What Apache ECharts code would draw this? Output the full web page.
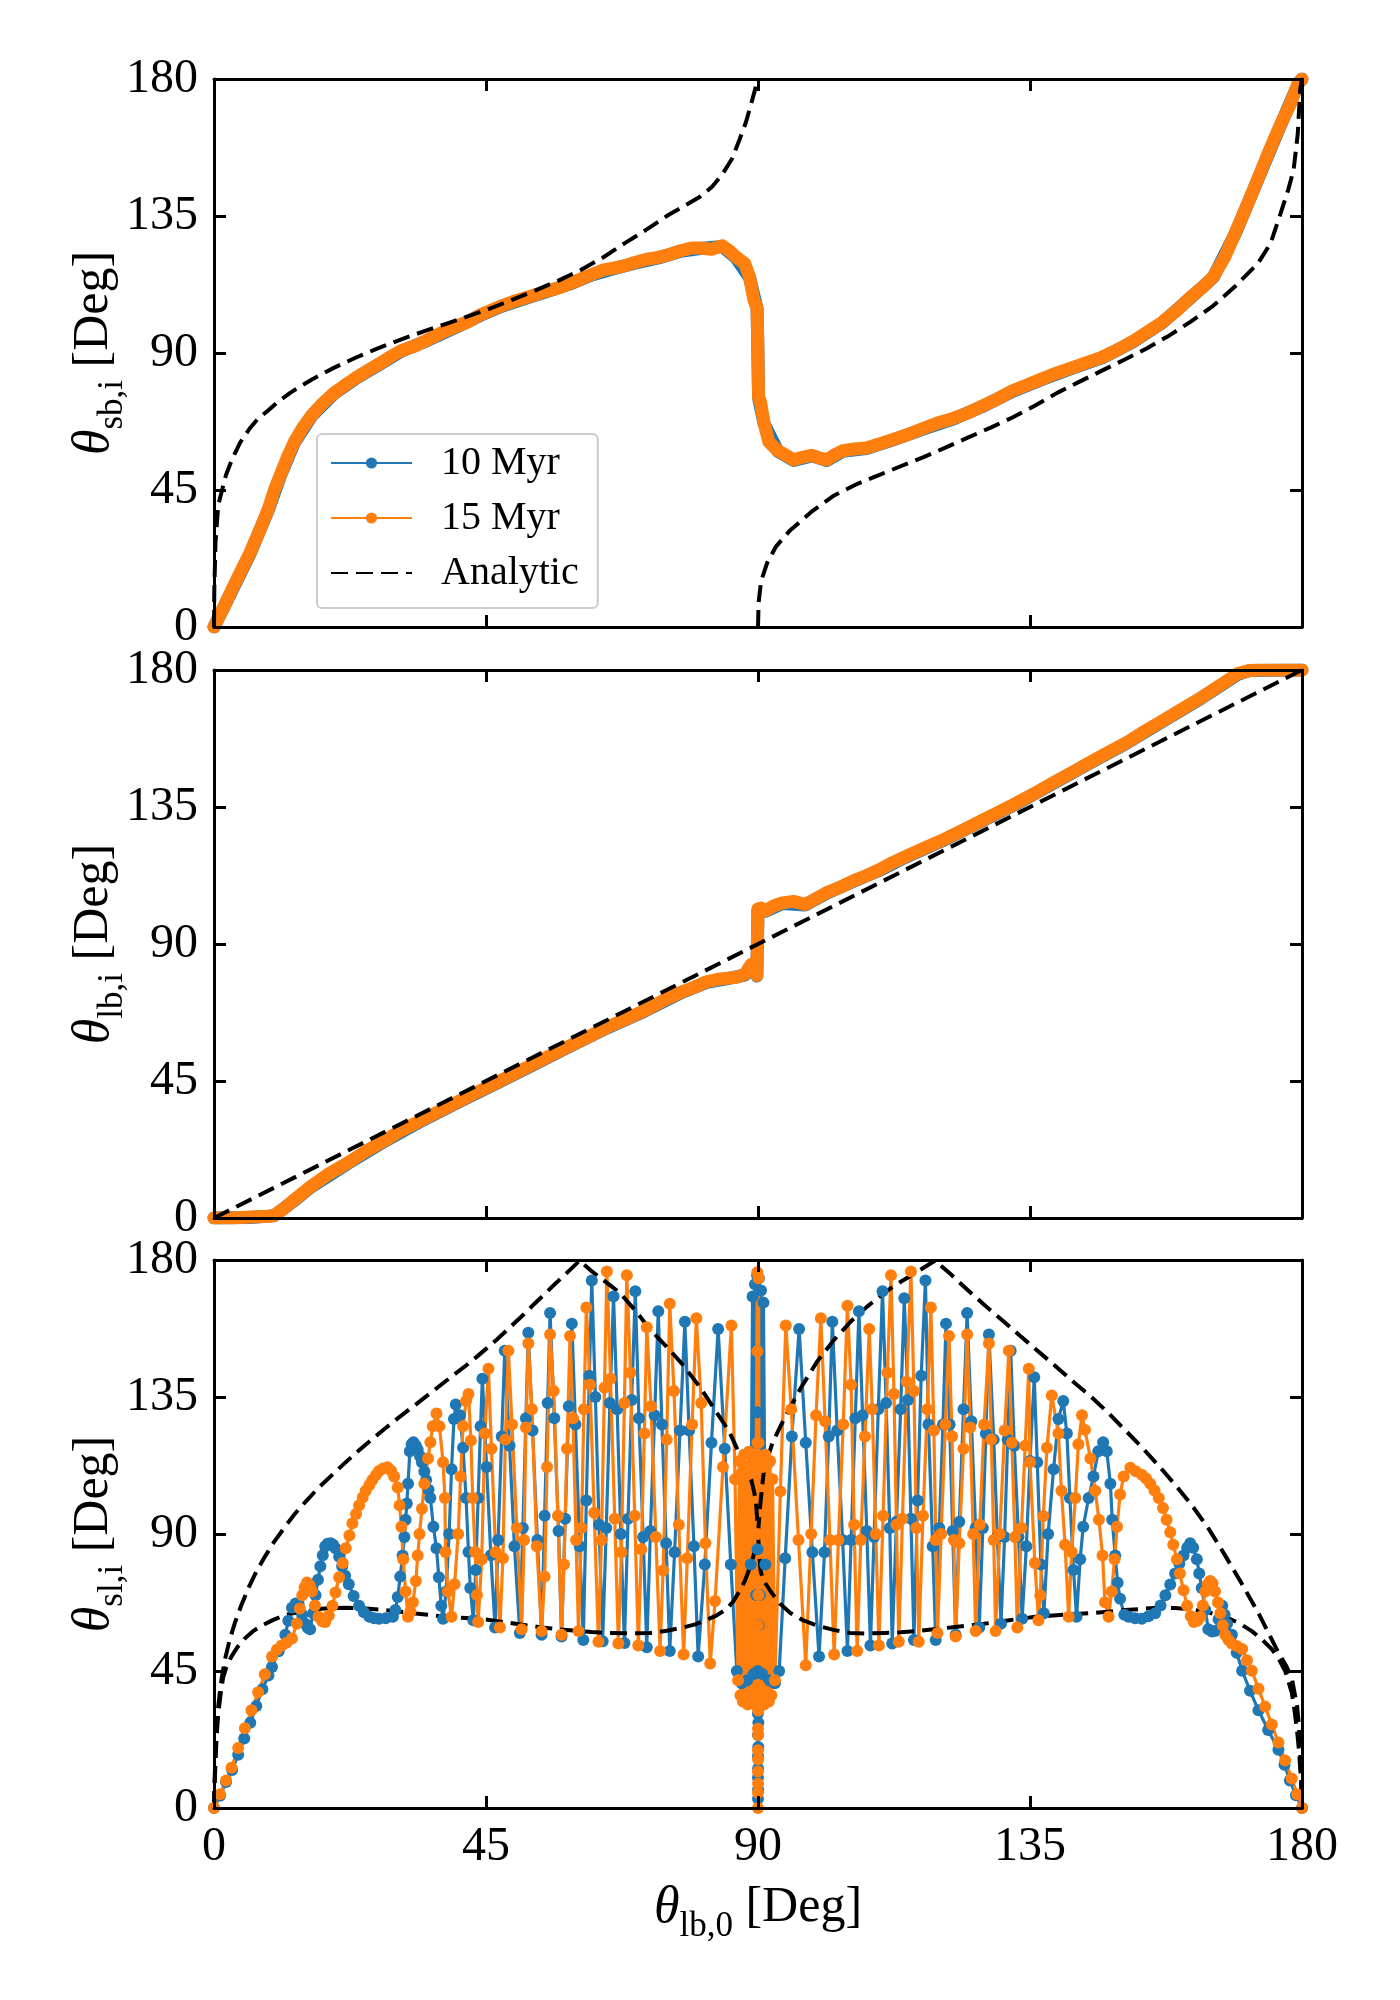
<!DOCTYPE html>
<html>
<head>
<meta charset="utf-8">
<script src="https://cdn.jsdelivr.net/npm/echarts@6.0.0/dist/echarts.min.js"></script>
<style>
  html, body { margin: 0; padding: 0; background: #fff; }
  #chart { width: 1400px; height: 2000px; }
</style>
</head>
<body>
<div id="chart"></div>
<script>
// ---------- data (degrees) ----------
const tickValues = [0, 45, 90, 135, 180]
const yLabelSubs = ['sb,i', 'lb,i', 'sl,i']
const xLabelSub = 'lb,0'
const seriesNames = ['10 Myr', '15 Myr', 'Analytic']

// panel 1: theta_sb,i
const sb15 = [
  [0,0],[1.5,6],[3,12.4],[4.5,18.5],[6,24.5],[7.5,31.5],[9,38.8],[10,45],[11.1,50.5],[12.2,56],
  [13.3,60.8],[14.7,65.5],[16.2,69.6],[18,73.5],[19.9,76.9],[21.8,79.6],[23.6,82],[25.5,84.3],
  [27.3,86.4],[29.2,88.8],[31,90.8],[33.2,92.3],[35.5,94.5],[37.7,96.7],[40,98.6],[42.1,100.3],
  [44,102.5],[45.8,104],[47.7,105.6],[49.5,106.9],[51.3,108],[53.2,109.1],[55,110.3],[56.9,111.3],
  [58.8,112.8],[60.6,114.2],[62.5,115.8],[64.3,117.2],[66.1,117.9],[67.9,118.6],[69.8,119.8],
  [71.6,120.8],[73.5,121.4],[75.3,122.3],[77.2,123.6],[79,124.5],[80.4,124.5],[82.3,124.1],
  [84.1,125.2],[85.3,123.5],[86.3,121.6],[87.8,119.4],[88.6,115],[89.3,107.6],[89.85,104.7],
  [89.95,95],[90,88.6],[90.05,80],[90.1,75.4],[90.4,74],[91,67],[91.8,60.8],[93.3,57.9],[95.9,54.9],
  [97.5,55.8],[98.9,56.4],[100.2,55.5],[101.4,54.9],[102.7,56.6],[104,57.9],[106,58.5],[107.9,58.8],
  [109.9,60],[112,61.4],[114.5,63],[117.3,65.2],[120,67.2],[122.4,68.6],[124.7,70.3],[127,72.5],
  [129.5,74.8],[132.1,77.6],[134.5,79.5],[137,81.5],[139.5,83.5],[142,85.2],[144.5,86.9],[146.9,88.6],
  [149.5,91],[152,93.8],[154.3,96.7],[156.8,100],[159.3,104],[161.6,108.4],[163.5,111.5],[165.3,115],
  [167.2,121.5],[169,129.6],[170.8,138],[172.7,147.2],[174.5,156],[176.4,164.8],[178,171.5],
  [179.4,178.7],[180,180]
]
const sb10 = [
  [0,0],[3,12],[6,24.2],[9,38.5],[11.1,50.2],[13.3,60.5],[16.2,69.4],[19.9,76.7],[23.6,81.8],
  [27.3,86.2],[31,90.6],[35.5,94.3],[40,98.4],[44,102.3],[47.7,105.4],[51.3,107.8],[55,110.1],
  [58.8,112.6],[62.5,115.6],[66.1,117.7],[69.8,119.6],[73.5,121.2],[77.2,123.4],[80.4,124.3],
  [84.1,125],[86.3,121.4],[88.6,114.8],[89.85,104.5],[90,88.4],[90.1,75.2],[91,66.8],[93.3,57.7],
  [95.9,54.7],[98.9,56.2],[101.4,54.7],[104,57.7],[107.9,58.6],[112,61.2],[117.3,65],[122.4,68.4],
  [127,72.3],[132.1,77.4],[137,81.3],[142,85],[146.9,88.4],[152,93.6],[156.8,99.8],[161.6,108.2],
  [165.3,114.8],[169,129.4],[172.7,147],[176.4,164.6],[179.4,178.5],[180,180]
]
const sbAnalyticLeft = [
  [0,0],[0.05,12],[0.25,28],[0.7,40],[1.1,43.2],[2,50],[2.95,54.9],[4.3,60.5],[5.9,65.2],[7.3,68.5],
  [8.9,71],[10.7,74.2],[12.6,76.9],[14.4,79.2],[16.2,81.3],[19.9,85.2],[23.6,88.6],[27.3,91.7],
  [31,94.5],[34.7,97.1],[38.4,99.6],[42.1,102.1],[45.8,104.7],[49.5,107.6],[53.2,110.6],
  [56.9,113.7],[60.6,117.2],[64.3,121.3],[67.9,126],[71.6,130.6],[75.3,135.5],[78,138.5],
  [80.4,141.3],[82.4,144.6],[84.1,148.7],[85.7,153.8],[87,160.4],[88,165.8],[88.9,172],
  [89.5,176.5],[89.85,179.4],[90,180]
]
const sbAnalyticRight = [
  [90,0],[90.1,8],[90.5,15],[91.5,21],[93,26.5],[95.2,31.5],[98.8,37.8],[102.6,43.2],[106.2,46.8],
  [109.9,49.8],[113.6,52.8],[117.3,55.7],[121,58.9],[124.7,62.2],[128.4,65.4],[132.1,68.8],
  [135.8,72.7],[139.5,76.9],[143.2,80.6],[146.9,84.2],[150.6,87.8],[154.3,91.5],[158,95.7],
  [161.6,100.3],[165.3,105.5],[169,112],[172.7,119.4],[174.8,126],[176.4,135.5],[177.7,143.5],
  [178.6,150],[179.3,162],[179.7,176.5],[180,180]
]

// panel 2: theta_lb,i
const lb15 = [
  [0,0],[3,0],[6,0.3],[9,0.6],[9.9,0.8],[11.5,3],[13,5.5],[16,10.3],[19,14.5],[22.2,18.2],[25,21.8],
  [28.3,25.5],[31,28.8],[34.4,32.2],[37.5,35.3],[40.5,38.3],[43.5,41.3],[46.7,44.4],[49.7,47.4],
  [52.8,50.5],[55.8,53.5],[58.9,56.6],[62,59.6],[65,62.6],[68,65.2],[71.2,68.1],[74.2,71.3],
  [77.3,74.2],[79.5,75.8],[81.5,77.6],[83.4,78.4],[85,78.8],[86.5,79.1],[87.8,80],[88.9,83.3],
  [89.5,82],[89.8,79.7],[89.9,90],[90,101.5],[90.5,101.8],[91.3,101],[92.6,102.5],[94,103.5],
  [95.9,104],[97.8,103],[99.5,104.8],[101.5,107],[103.5,108.5],[105.7,110.7],[108,112.5],
  [110,114.3],[112,116.5],[114.3,118.6],[117.3,121.3],[120.4,124],[123.5,127],[126.6,130.1],
  [129.6,133.1],[132.7,136.2],[135.8,139.5],[138.8,142.9],[141.9,146.3],[144.9,149.6],[148,153],
  [151.1,156.3],[154.1,160],[157.2,163.6],[160.3,167.3],[163.3,170.9],[166.3,174.8],[169.4,178.8],
  [171.3,179.8],[173,180],[176,180],[180,180]
]
const lb10 = [
  [0,0],[6,0.2],[9.9,0.7],[13,5.3],[16,10.1],[22.2,18],[28.3,25.3],[34.4,32],[40.5,38.1],[46.7,44.2],
  [52.8,50.3],[58.9,56.4],[65,62.4],[71.2,67.9],[77.3,74],[81.5,77.4],[85,78.6],[87.8,79.8],
  [88.9,83.1],[89.8,79.5],[89.9,90],[90,101.3],[91.3,100.8],[94,103.3],[97.8,102.8],[101.5,106.8],
  [105.7,110.5],[110,114.1],[114.3,118.4],[120.4,123.8],[126.6,129.9],[132.7,136],[138.8,142.7],
  [144.9,149.4],[151.1,156.1],[157.2,163.4],[163.3,170.7],[169.4,178.6],[171.3,179.8],[180,180]
]
const lbAnalytic = [[0,0],[180,180]]

// panel 3: theta_sl,i
const sl15 = [
  [0,0],[1,4.5],[2,9],[2.9,13.2],[4,19.7],[5.1,26.2],[6.2,32.1],[7.3,38],[8.4,43.9],[9.6,49.8],
  [10.4,52],[11.2,53.4],[12,54.3],[12.9,55.7],[13.7,60.5],[14.2,65.5],[14.6,69.9],[15,72.5],
  [15.4,74.1],[15.8,73.2],[16.2,71.1],[16.7,66.5],[17.3,62.8],[17.9,61.3],[18.4,61.1],[19,63.2],
  [19.6,66.4],[20.1,70.8],[20.7,75.8],[21.3,80.5],[21.8,85.3],[22.4,89.5],[22.9,93.5],[23.5,96.6],
  [24,99.4],[24.6,102],[25.1,104.2],[25.7,106.1],[26.2,107.7],[26.8,109.4],[27.3,110.7],[28,111.5],
  [28.7,111.9],[29.3,110.8],[29.8,108.9],[30.4,105.3],[30.7,99.4],[31,92.4],[31.3,81.7],[31.7,71.1],
  [32.1,62.8],[32.5,64.5],[32.9,67.6],[33.4,74.6],[33.7,82.9],[34,90],[34.4,98.3],[34.8,106.5],
  [35.4,114.8],[35.8,120.1],[36.2,125.4],[36.8,129.6],[37.3,125.4],[37.9,113.6],[38.2,101.8],
  [38.3,84.1],[38.7,71.1],[39.3,62.8],[39.8,73.5],[40.4,90],[40.8,108.9],[41.2,125.4],[41.7,133.7],
  [42.1,136],[42.5,120.7],[42.8,101.8],[43.2,84.1],[43.5,70],[43.7,61.1],[44.3,81.7],[44.8,123],
  [45.4,144.3],[45.9,118],[46.6,84],[47.3,59.3],[47.8,82],[48.2,121],[48.7,150.2],[49.3,126],
  [50.1,92],[50.9,58.7],[51.3,88],[51.6,125],[52,152.6],[52.6,131],[53.4,86],[54.2,58.1],[54.7,76],
  [55.1,112],[55.6,155.5],[56.2,137],[56.9,96],[57.5,56.9],[57.9,80],[58.4,118],[58.9,155],
  [59.4,128],[59.9,88],[60.3,58.1],[60.8,92],[61.2,131],[61.6,164.4],[62.2,139],[62.9,97],
  [63.6,54.6],[64.1,88],[64.6,138],[65,176.2],[65.6,141],[66.3,95],[66.9,54],[67.4,84],[67.9,133],
  [68.3,175],[68.9,143],[69.6,96],[70.2,53.4],[70.7,85],[71.2,123],[71.6,157.9],[72.3,132],
  [73.1,89],[73.8,51.6],[74.3,78],[74.9,121],[75.4,165.6],[76.1,137],[76.9,93],[77.7,50.4],
  [78.3,82],[79.1,126],[79.8,160.9],[80.6,133],[81.3,87],[82.1,47.5],[82.9,68],[84.2,112],
  [85.6,158.5],[86.2,108],[86.7,42],
  [86.9,114],[87.1,37],[87.3,110],[87.5,35],[87.7,116],[87.9,36],[88.1,112],[88.3,34],[88.5,117],
  [88.7,36],[88.9,113],[89.1,35],[89.3,116],[89.5,38],[89.7,114],
  [89.88,176],[89.9,150],[89.92,120],[89.94,90],[89.96,60],[89.98,40],[90,33],[90,26],[90,19],
  [90,12],[90,5],[90,0],[90.01,8],[90.02,16],[90.03,24],[90.04,32],[90.06,70],[90.08,120],[90.1,174],
  [90.25,40],[90.4,115],[90.6,35],[90.8,112],[91,34],[91.2,116],[91.4,36],[91.6,113],[91.8,35],
  [92,114],[92.2,37],[92.4,108],[92.8,42],
  [93.7,104],[94.6,158.5],[95.5,131],[96.7,88],[97.9,46.9],[98.8,90],[99.6,129],[100.4,160.9],
  [101.1,127],[101.9,88],[102.6,50.4],[103.3,88],[104.1,126],[104.8,165],[105.4,139],[105.9,93],
  [106.4,51.6],[107,88],[107.7,122],[108.4,157.3],[108.9,131],[109.5,90],[110,53.4],[110.7,96],
  [111.4,143],[112,175],[112.5,136],[112.9,93],[113.3,54.6],[113.9,95],[114.6,140],[115.3,176.2],
  [115.8,137],[116.2,92],[116.6,54.6],[117.3,96],[118,131],[118.6,164.4],[119.1,124],[119.4,88],
  [119.7,57.5],[120.3,90],[121,126],[121.6,155],[122.1,122],[122.4,88],[122.7,56.3],[123.3,87],
  [124,118],[124.6,155.5],[125.1,125],[125.6,90],[126,58.1],[126.7,93],[127.4,126],[128.2,152.6],
  [128.6,121],[129,88],[129.3,58.1],[130,90],[130.8,124],[131.5,150.2],[132,120],[132.5,89],
  [132.9,59.3],[133.6,92],[134.2,119],[134.8,144.3],[135,113.6],[135.8,80.5],[136.4,61.7],
  [136.7,69.9],[137.2,95.9],[137.8,118.3],[138.6,135.5],[139.7,123],[140.2,104.2],[140.8,86.5],
  [141.4,62.8],[141.9,84.1],[142.5,101.8],[143,119.5],[143.6,129],[144.1,124.2],[145,114.8],
  [145.8,104.2],[146.4,94.7],[147,82.9],[147.4,67.6],[148,62.8],[148.5,71.1],[149,81.7],[149.4,92.4],
  [149.9,103],[150.5,108.9],[151.6,111.8],[152.5,110.6],[153.5,109.5],[154.2,108.2],[154.9,106.5],
  [155.6,104.3],[156.3,101.8],[157,98.5],[157.6,94.7],[158.2,90.6],[158.7,86.5],[159.3,81.7],
  [159.8,77],[160.4,71.5],[161,66.4],[161.6,63],[162.1,61.1],[162.7,61.5],[163.2,62.8],[163.6,66.5],
  [164,71.1],[164.4,73.5],[164.8,74.6],[165.2,73.8],[165.6,71.1],[166.1,67.5],[166.5,64],[166.9,60],
  [167.3,56.9],[167.8,55.3],[168.4,54],[169.2,53.2],[170.1,52.2],[170.9,48.5],[171.7,45.1],
  [172.8,39.2],[173.9,33.3],[175,27.4],[176.1,21.5],[177.2,15.6],[178.3,9.7],[179.2,4.5],[180,0]
]
const sl10 = [
  [0,0],[1,4],[2,8.5],[3,12.5],[4,17.5],[5,22.8],[6,28],[7,33.5],[8,39],[9,43.5],[9.6,46.3],
  [10.7,51.5],[11.8,56.9],[12.3,61.5],[12.9,65.8],[13.5,67.2],[14,67],[14.6,63.5],[15.1,60.5],
  [15.5,59.2],[15.9,58.7],[16.4,64],[16.8,69.9],[17.2,75],[17.6,79.4],[18,83],[18.4,85.9],
  [18.8,86.8],[19.3,87],[19.7,86.5],[20.1,85.3],[20.7,82.5],[21.2,79.4],[21.7,76.3],[22.3,73.5],
  [23.1,69.6],[24,66.4],[24.8,64.3],[25.7,62.8],[26.5,62.3],[27.3,62.2],[28.4,62.3],[29.6,62.8],
  [30,65],[30.4,69.3],[30.8,76],[31.2,82.9],[31.5,89],[31.7,94.7],[31.9,100],[32.1,106.5],
  [32.4,117.2],[32.7,119.5],[33,120.1],[33.4,119],[33.7,117.7],[34.1,115.5],[34.4,113.6],
  [34.8,110.5],[35.1,107.7],[35.5,104.5],[35.8,101.8],[36.3,92.4],[36.8,85.3],[37.2,75.8],
  [37.6,66.4],[37.9,62.2],[38.4,71.1],[38.9,90],[39.3,111.3],[39.7,127.8],[40,132.5],[40.7,129],
  [41.2,118.3],[41.7,101.8],[42.1,84.1],[42.4,72.3],[42.9,61.7],[43.3,78.2],[43.7,101.8],
  [44.1,125.4],[44.4,141],[45.1,112],[45.8,83],[46.5,59.3],[47,88],[47.6,122],[48.1,150.2],
  [48.9,119],[49.7,86],[50.6,57.5],[51.1,92],[51.6,128],[52,156.1],[52.7,124],[53.5,88],[54.2,56.9],
  [54.7,96],[55.2,133],[55.6,162.6],[56.3,128],[57,91],[57.5,56.3],[58.1,95],[58.7,132],[59.2,159.1],
  [59.8,126],[60.5,86],[61.1,55.2],[61.6,101],[62.1,142],[62.5,173.3],[63.1,135],[63.7,93],
  [64.3,54.8],[64.9,92],[65.5,133],[66.1,168],[66.7,131],[67.3,90],[67.9,54.2],[68.5,95],[69.1,134],
  [69.7,169.7],[70.3,128],[71,89],[71.6,52.8],[72.2,91],[72.9,129],[73.5,163.2],[74.1,126],[74.8,87],
  [75.4,51.6],[76.2,84],[77.1,124],[77.9,159.7],[78.6,124],[79.4,86],[80.1,49.8],[81.2,80],
  [82.3,120],[83.4,157.3],[84.5,118],[85.5,80],[86.5,45],[87.3,41],[88.2,42],[88.8,80],
  [89.1,168],[89.3,44],[89.5,172],[89.7,70],
  [89.85,175],[89.9,130],[89.93,85],[89.96,45],[89.98,31],[90,24],[90,17],[90,10],[90,3],
  [90.02,6],[90.02,13],[90.04,20],[90.06,28],[90.08,60],[90.1,120],[90.15,174],
  [90.3,70],[90.5,170],[90.7,44],[90.9,166],[91.2,80],[91.8,42],
  [92.8,41],[93.5,45],[94.5,82],[95.6,122],[96.8,157.3],[97.9,120],[99,84],[100.1,49.8],[101,84],
  [101.7,122],[102.3,159.7],[103.1,124],[104,88],[104.8,51.6],[105.4,88],[106.1,128],[106.7,163.2],
  [107.3,129],[108,91],[108.6,53.4],[109.2,89],[109.9,131],[110.6,169.7],[111.2,133],[111.8,92],
  [112.2,54],[112.9,94],[113.6,131],[114.2,167.4],[114.8,134],[115.3,95],[115.8,55.2],[116.4,101],
  [117,142],[117.7,173.3],[118.2,126],[118.9,86],[119.4,55.2],[120,92],[120.6,126],[121.1,159.1],
  [121.7,126],[122.2,91],[122.7,56.9],[123.3,94],[124,131],[124.6,162.6],[125.3,127],[126,92],
  [126.6,59.3],[127.2,92],[127.7,123],[128.2,155.5],[129,121],[129.6,89],[130.2,60.5],[130.8,89],
  [131.3,121],[131.8,150.2],[132.4,119],[133.1,89],[133.7,62.2],[134.4,86],[135,114],[135.7,141.5],
  [136.2,113.6],[136.8,80],[137.3,64],[138,90],[138.9,111.3],[139.7,127.8],[140.5,133.7],[141.1,123],
  [141.6,101.8],[142.2,78.2],[142.7,62.8],[143.3,81.7],[143.8,92.4],[144.7,101.8],[145.5,108.9],
  [146.3,117.2],[147.1,120.1],[147.7,117.2],[148.3,106.5],[148.6,94.7],[149.1,82.9],[149.5,74],
  [149.9,68.7],[150.6,63.5],[151.3,62.8],[152.4,62.3],[153.5,62.2],[154.6,63],[155.7,64],
  [156.6,66.5],[157.4,69.9],[158.2,73.4],[159,77],[159.7,80.2],[160.4,82.9],[161,85.5],[161.5,87],
  [162,85.5],[162.6,81.7],[163,77],[163.4,72.3],[164,65],[164.5,58.7],[165.1,58],[165.6,58.1],
  [166.2,62],[166.8,66.4],[167.2,63.5],[167.6,60.5],[168.4,56.9],[169.2,51],[170.1,45.1],
  [171.4,38.5],[172.8,32.1],[174.4,25.6],[176.1,19.1],[177.1,14.2],[178,9],[179,4.2],[180,0]
]
const slUpperLeft = [
  [0,0],[0.1,9],[0.2,15],[0.4,25],[0.6,31.5],[0.9,36.8],[1.3,43],[1.8,48.7],[2.5,54.5],[3.4,60.5],
  [4.5,66.5],[5.7,72.3],[7,77.6],[8.4,82.5],[10,87.6],[11.8,92.5],[13.4,96.7],[15.1,100.5],
  [17.3,105.2],[19.6,109.5],[21.8,113.6],[24,117.5],[26.2,121.2],[28.4,124.8],[30.6,128.3],
  [32.9,131.8],[35.1,135.2],[37.3,138.6],[39.5,142],[41.8,145.5],[43.4,148.1],[45,150.8],
  [46.8,153.9],[48.5,157],[50.7,161.1],[52.8,165.2],[54.7,168.8],[56.5,172.3],[58.5,176],
  [60.5,179.8],[62.3,176.6],[64,174],[65.6,171.6],[67.2,169.1],[69.7,163.4],[72.1,157.3],
  [74.9,151.5],[77.6,145.5],[80.4,138.2],[83.1,130.1],[85.2,123.8],[87,116],[88.1,111.5],
  [88.9,107.7],[89.4,103.5],[89.7,99.4],[89.9,94],[90,90]
]
const slLowerLeft = [
  [0,0],[0.15,10],[0.3,18],[0.5,25.5],[0.7,30.9],[1.1,37.5],[1.5,42.8],[2.1,46.6],[2.9,49.8],
  [3.9,52.9],[5.1,55.7],[6.4,58],[7.9,59.9],[9.8,61.8],[11.8,63.4],[14,64.4],[16.2,65.2],
  [19,65.6],[21.8,65.8],[24.6,65.6],[27.3,65.2],[30.1,64.6],[32.9,64],[35.6,63.4],[38.4,62.8],
  [41.7,62.4],[45,61.9],[49.6,60.6],[54.2,59.3],[57.1,58.7],[60,58.2],[62.5,57.8],[64.9,57.5],
  [68.5,57.4],[72.1,57.5],[74.9,58.2],[77.6,59.3],[79.6,60.3],[81.4,61.7],[83.1,63.2],[84.7,65.2],
  [85.9,67.8],[86.9,71.1],[87.8,74.5],[88.5,78.2],[89.1,81.8],[89.6,85.3],[89.9,88.2],[90,90]
]
const slUpperRight = [
  [90,90],[90.2,95.5],[90.4,100],[90.7,106],[91,111.3],[92.4,120],[94.3,127.8],[97,137.7],
  [99.8,146.7],[102.5,153.6],[105.3,159.7],[108,164.6],[110.8,169.1],[112.9,172],[115,174.5],
  [117.2,177.2],[119.3,179.8],[121.9,175.3],[124.6,170.3],[127.6,165],[130.7,159.7],[133.3,155.2],
  [135.9,150.8],[139.7,144.3],[142.4,139.6],[145.2,134.9],[148,129.7],[150.7,124.2],[153.5,118.5],
  [156.3,112.4],[159,106.2],[161.8,99.4],[164.6,91.6],[167.3,82.9],[170,73.8],[172.8,64],
  [174.5,57.3],[176.1,51],[177.3,47],[178.3,42.8],[179.2,33.3],[179.5,27],[179.7,19.1],[179.9,9],[180,0]
]
const slLowerRight = [
  [90,90],[90.2,83.5],[90.4,78.2],[90.7,76],[91,74.5],[92.1,71.1],[93.6,67.2],[95.4,64],[97.5,61.6],
  [99.8,59.9],[102.5,58.5],[105.3,57.5],[108,57.3],[110.8,57.5],[113.6,57.7],[116.4,58.1],
  [119.1,58.7],[121.9,59.3],[124.6,59.9],[127.4,60.5],[131.6,61.7],[135.9,62.8],[140.5,63.5],
  [145.2,64],[150.7,65],[156.3,65.8],[159,65.7],[161.8,65.2],[164.6,64.2],[167.3,62.8],[169.6,60.7],
  [171.7,58.1],[173.4,55.3],[175,52.2],[176.2,48.8],[177.2,45.1],[178.3,38],[178.8,31.5],
  [179.2,25],[179.5,19],[179.7,13.2],[179.9,6],[180,0]
]

// ---------- style ----------
const FONT = "'Liberation Serif', 'DejaVu Serif', serif"
const BLUE = '#1f77b4'
const ORANGE = '#ff7f0e'
const PANEL_LEFT = 214
const PANEL_WIDTH = 1088
const PANEL_HEIGHT = 548
const panelTops = [79, 670, 1260]

const frameLine = { color: '#000', width: 3 }
const innerTick = { show: true, inside: true, length: 12, lineStyle: { color: '#000', width: 3 } }

const nameRich = {
  t: { fontFamily: FONT, fontStyle: 'italic', fontSize: 52, lineHeight: 72, color: '#000' },
  s: { fontFamily: FONT, fontSize: 35, lineHeight: 35, verticalAlign: 'bottom', color: '#000' },
  n: { fontFamily: FONT, fontSize: 50, lineHeight: 72, color: '#000' }
}
function axisTitle(sub) {
  return '{t|θ}{s|' + sub + '}{n| [Deg]}'
}

const axisMin = tickValues[0]
const axisMax = tickValues[tickValues.length - 1]
const axisStep = tickValues[1] - tickValues[0]

function baseAxis(p, position) {
  return {
    gridIndex: p, type: 'value', position,
    min: axisMin, max: axisMax, interval: axisStep,
    z: 10,
    axisLine: { show: true, onZero: false, lineStyle: frameLine },
    axisTick: innerTick,
    splitLine: { show: false },
    axisLabel: { show: false }
  }
}

const grids = panelTops.map(top => ({
  left: PANEL_LEFT, top, width: PANEL_WIDTH, height: PANEL_HEIGHT
}))

const xAxes = []
const yAxes = []
panelTops.forEach((top, p) => {
  const bottomX = baseAxis(p, 'bottom')
  if (p === panelTops.length - 1) {
    bottomX.axisLabel = { show: true, margin: 15, fontFamily: FONT, fontSize: 48, color: '#000', showMinLabel: true, showMaxLabel: true }
    bottomX.name = axisTitle(xLabelSub)
    bottomX.nameLocation = 'middle'
    bottomX.nameGap = 64
    bottomX.nameMoveOverlap = false
    bottomX.nameTextStyle = { rich: nameRich }
  }
  xAxes.push(bottomX, baseAxis(p, 'top'))

  const leftY = baseAxis(p, 'left')
  leftY.axisLabel = { show: true, margin: 16, fontFamily: FONT, fontSize: 48, color: '#000', showMinLabel: true, showMaxLabel: true }
  leftY.name = axisTitle(yLabelSubs[p])
  leftY.nameLocation = 'middle'
  leftY.nameRotate = 90
  leftY.nameGap = 84
  leftY.nameMoveOverlap = false
  leftY.nameTextStyle = { rich: nameRich }
  yAxes.push(leftY, baseAxis(p, 'right'))
})

// dotted simulation curve (panel 3)
function dotSeries(name, data, color, p) {
  return {
    type: 'line', name, data, xAxisIndex: 2 * p, yAxisIndex: 2 * p,
    symbol: 'circle', symbolSize: 12, showSymbol: true,
    lineStyle: { color, width: 3.2 }, itemStyle: { color },
    clip: true, animation: false, silent: true
  }
}
// dense markers merge into a thick band (panels 1 and 2)
function bandSeries(name, data, color, p) {
  return {
    type: 'line', name, data, xAxisIndex: 2 * p, yAxisIndex: 2 * p,
    symbol: 'none',
    lineStyle: { color, width: 13, cap: 'round', join: 'round' },
    itemStyle: { color },
    clip: true, animation: false, silent: true
  }
}
function dashSeries(data, p) {
  return {
    type: 'line', name: seriesNames[2], data, xAxisIndex: 2 * p, yAxisIndex: 2 * p,
    symbol: 'none',
    lineStyle: { color: '#000', width: 4, type: [17, 8] },
    itemStyle: { color: '#000' },
    clip: true, animation: false, silent: true, z: 3
  }
}

const series = [
  dotSeries(seriesNames[0], sl10, BLUE, 2),
  dotSeries(seriesNames[1], sl15, ORANGE, 2),
  dashSeries(slUpperLeft, 2),
  dashSeries(slLowerLeft, 2),
  dashSeries(slUpperRight, 2),
  dashSeries(slLowerRight, 2),
  bandSeries(seriesNames[0], sb10, BLUE, 0),
  bandSeries(seriesNames[1], sb15, ORANGE, 0),
  dashSeries(sbAnalyticLeft, 0),
  dashSeries(sbAnalyticRight, 0),
  bandSeries(seriesNames[0], lb10, BLUE, 1),
  bandSeries(seriesNames[1], lb15, ORANGE, 1),
  dashSeries(lbAnalytic, 1)
]

const chart = echarts.init(document.getElementById('chart'), null, { renderer: 'canvas' })
chart.setOption({
  backgroundColor: '#fff',
  animation: false,
  textStyle: { fontFamily: FONT },
  grid: grids,
  xAxis: xAxes,
  yAxis: yAxes,
  legend: {
    orient: 'vertical', left: 317, top: 434,
    padding: [9, 19, 15, 13],
    itemWidth: 81, itemHeight: 14, itemGap: 15,
    backgroundColor: 'rgba(255,255,255,0.8)',
    borderColor: '#cccccc', borderWidth: 2, borderRadius: 5,
    selectedMode: false,
    textStyle: { fontFamily: FONT, fontSize: 40, lineHeight: 40, color: '#000', padding: [0, 0, 0, 24] },
    data: [
      { name: seriesNames[0] },
      { name: seriesNames[1] },
      { name: seriesNames[2], itemStyle: { opacity: 0 } }
    ]
  },
  series
})
</script>
</body>
</html>
